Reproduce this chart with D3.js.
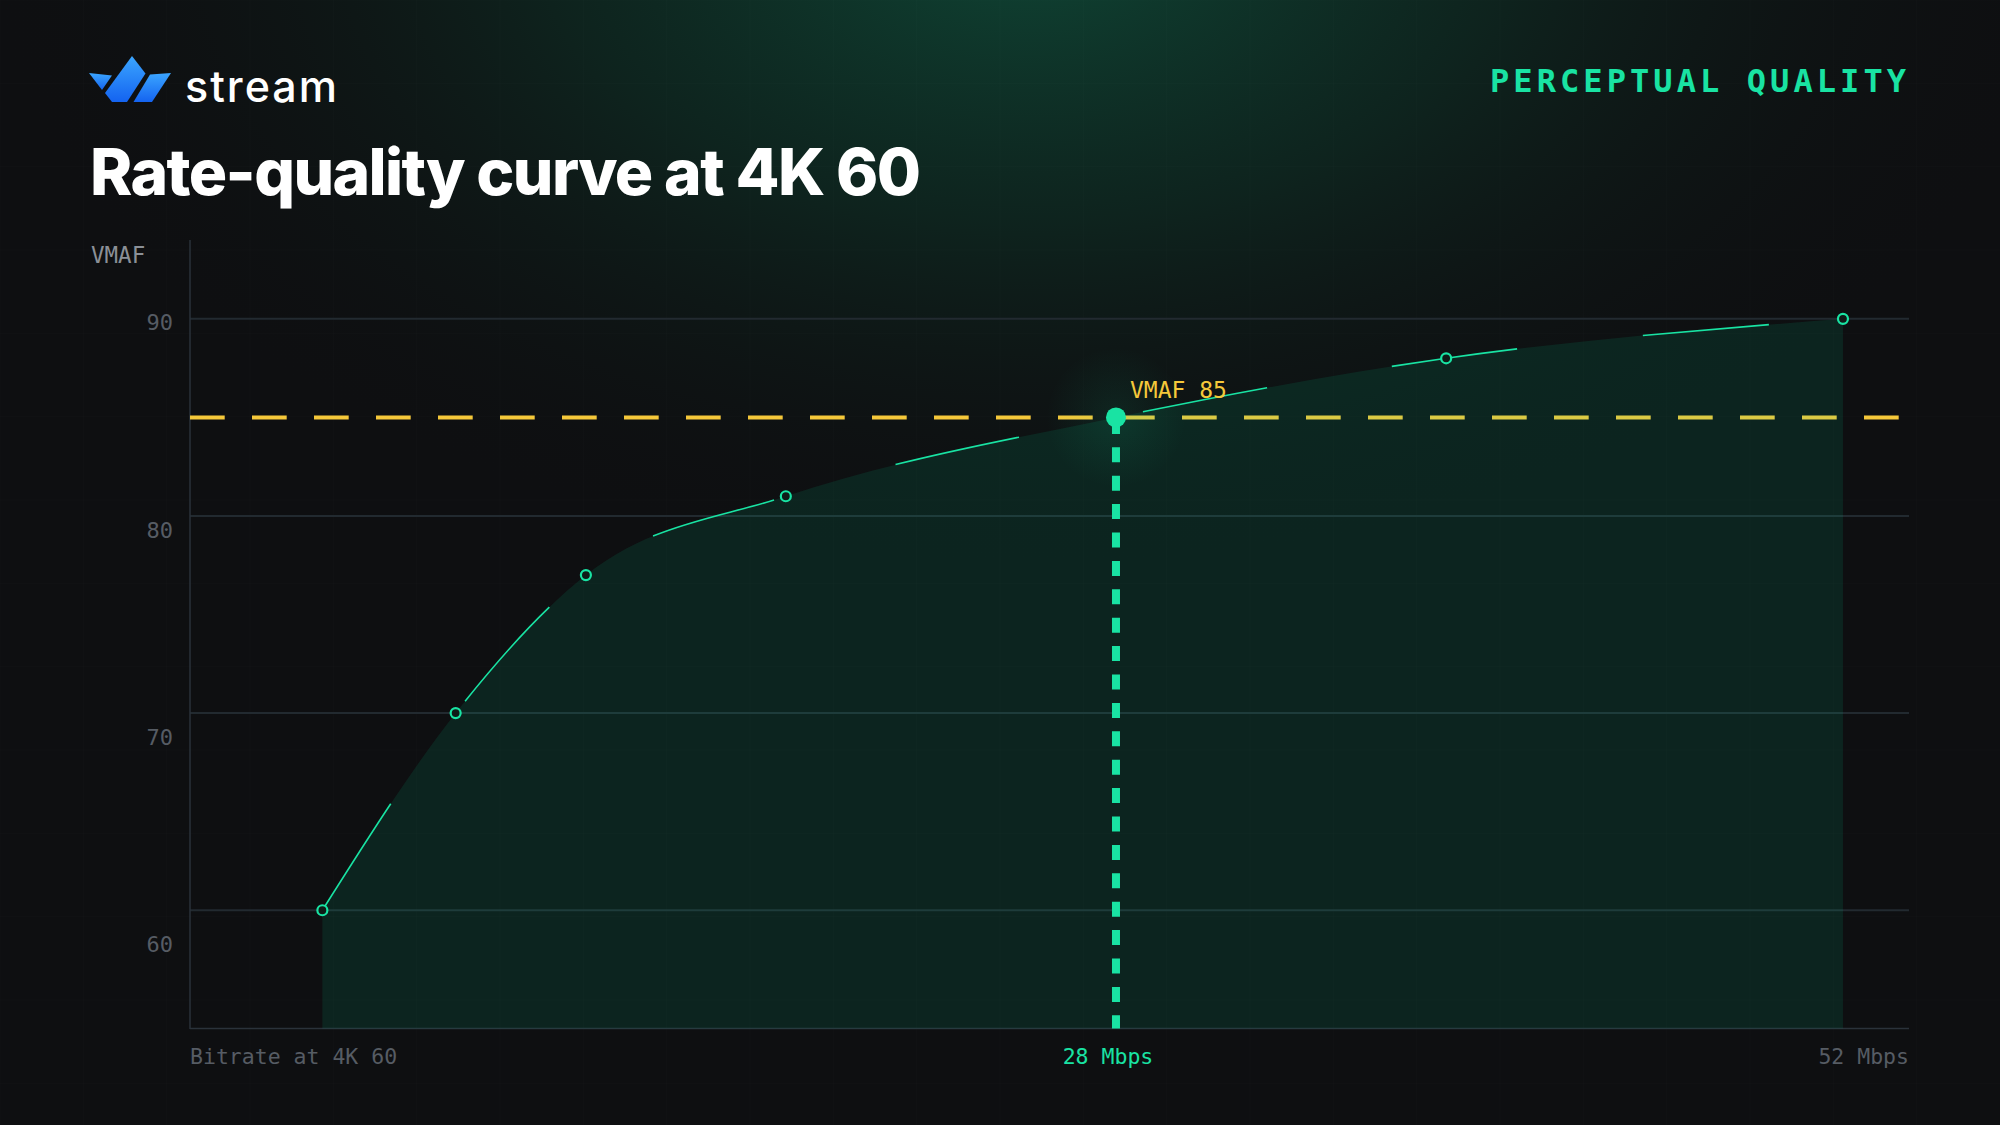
<!DOCTYPE html>
<html>
<head>
<meta charset="utf-8">
<script src="https://cdn.jsdelivr.net/npm/d3@7/dist/d3.min.js"></script>
<style>
  html, body { margin: 0; padding: 0; background: #0e0f11; }
  svg { display: block; }
</style>
</head>
<body>
<svg id="chart" width="2000" height="1125"></svg>
<script>
// ---------- data ----------
const bitrateMbps = [1.8, 6.2, 10.5, 17.1, 28, 38.9, 52];
const vmafScores  = [60, 70, 77, 81, 85, 88, 90];
const yTickValues = [60, 70, 80, 90];
const targetVmaf = 85;
const targetBitrate = 28;
const xDomain = [-2.57, 54.18];
const yDomain = [54, 94];
const titleText = "Rate-quality curve at 4K 60";
const brandText = "stream";
const kickerText = "PERCEPTUAL QUALITY";
const yAxisTitle = "VMAF";
const xStartLabel = "Bitrate at 4K 60";
const xTargetLabel = "28 Mbps";
const xEndLabel = "52 Mbps";
const targetLabel = "VMAF 85";

// ---------- layout ----------
const W = 2000, H = 1125;
const plot = { left: 190, right: 1909, top: 240, bottom: 1028.5 };
const MONO = "'DejaVu Sans Mono', 'Liberation Mono', monospace";
const SANS = "Inter, 'Noto Sans', sans-serif";
const GREEN = "#19e3a3";
const YELLOW = "#f5c83a";

const svg = d3.select("#chart");
const defs = svg.append("defs");

// background
const bgGlow = defs.append("radialGradient").attr("id", "bgGlow")
  .attr("gradientUnits", "userSpaceOnUse")
  .attr("cx", 1030).attr("cy", -60).attr("r", 1050)
  .attr("gradientTransform", "translate(1030,-60) scale(1,0.6) translate(-1030,60)");
bgGlow.append("stop").attr("offset", 0).attr("stop-color", "#0f4434").attr("stop-opacity", 1);
bgGlow.append("stop").attr("offset", 0.45).attr("stop-color", "#0e2a22").attr("stop-opacity", 0.75);
bgGlow.append("stop").attr("offset", 1).attr("stop-color", "#0e0f11").attr("stop-opacity", 0);

const dotGlow = defs.append("radialGradient").attr("id", "dotGlow");
dotGlow.append("stop").attr("offset", 0).attr("stop-color", GREEN).attr("stop-opacity", 0.09);
dotGlow.append("stop").attr("offset", 1).attr("stop-color", GREEN).attr("stop-opacity", 0);

const logoGrad = defs.append("linearGradient").attr("id", "logoGrad")
  .attr("x1", 0).attr("y1", 0).attr("x2", 0).attr("y2", 1);
logoGrad.append("stop").attr("offset", 0).attr("stop-color", "#3ba6ff");
logoGrad.append("stop").attr("offset", 1).attr("stop-color", "#1463f0");

svg.append("rect").attr("width", W).attr("height", H).attr("fill", "#0e0f11");
svg.append("rect").attr("width", W).attr("height", H).attr("fill", "url(#bgGlow)");

// faint background grid
const bgGrid = svg.append("g").attr("stroke", "#ffffff").attr("stroke-opacity", 0.015).attr("stroke-width", 1);
d3.range(0, W, 2000 / 24).forEach(v => bgGrid.append("line").attr("x1", v).attr("x2", v).attr("y1", 0).attr("y2", H));
d3.range(0, H, 2000 / 24).forEach(v => bgGrid.append("line").attr("y1", v).attr("y2", v).attr("x1", 0).attr("x2", W));

// ---------- scales ----------
const x = d3.scaleLinear().domain(xDomain).range([plot.left, plot.right]);
const y = d3.scaleLinear().domain(yDomain).range([plot.bottom, plot.top]);
const yLabel = d3.scaleLinear().domain(yDomain).range([1069.3, plot.top]);

const pts = bitrateMbps.map((b, i) => ({ b, v: vmafScores[i] }));

// gridlines
svg.append("g").selectAll("line").data(yTickValues).join("line")
  .attr("x1", plot.left).attr("x2", plot.right)
  .attr("y1", d => y(d)).attr("y2", d => y(d))
  .attr("stroke", "#222a30").attr("stroke-width", 2);

// axes lines
svg.append("line").attr("x1", plot.left).attr("x2", plot.left)
  .attr("y1", plot.top).attr("y2", plot.bottom + 0.5)
  .attr("stroke", "#2a323a").attr("stroke-width", 1.5);
svg.append("line").attr("x1", plot.left).attr("x2", plot.right)
  .attr("y1", plot.bottom).attr("y2", plot.bottom)
  .attr("stroke", "#2a323a").attr("stroke-width", 1.5);

// target threshold line (yellow)
svg.append("line")
  .attr("x1", plot.left).attr("x2", plot.right)
  .attr("y1", y(targetVmaf)).attr("y2", y(targetVmaf))
  .attr("stroke", YELLOW).attr("stroke-width", 4)
  .attr("stroke-dasharray", "34.7 27.3");

// area
const area = d3.area().x(d => x(d.b)).y0(plot.bottom).y1(d => y(d.v)).curve(d3.curveMonotoneX);
svg.append("path").datum(pts).attr("d", area)
  .attr("fill", "rgb(0,224,160)").attr("fill-opacity", 0.1);

// glow at target
svg.append("circle").attr("cx", x(targetBitrate)).attr("cy", y(targetVmaf)).attr("r", 70)
  .attr("fill", "url(#dotGlow)");

// curve
const line = d3.line().x(d => x(d.b)).y(d => y(d.v)).curve(d3.curveMonotoneX);
svg.append("path").datum(pts).attr("d", line)
  .attr("fill", "none").attr("stroke", GREEN).attr("stroke-width", 1.6)
  .attr("stroke-dasharray", "126.5 126.5");

// markers
svg.append("g").selectAll("circle").data(pts.filter(d => d.v !== targetVmaf)).join("circle")
  .attr("cx", d => x(d.b)).attr("cy", d => y(d.v)).attr("r", 5)
  .attr("fill", "#0f1a17").attr("stroke", GREEN).attr("stroke-width", 2.2);

// vertical target drop
svg.append("line")
  .attr("x1", x(targetBitrate)).attr("x2", x(targetBitrate))
  .attr("y1", y(targetVmaf) + 1.5).attr("y2", plot.bottom)
  .attr("stroke", GREEN).attr("stroke-width", 8)
  .attr("stroke-dasharray", "15 13.4");

svg.append("circle").attr("cx", x(targetBitrate)).attr("cy", y(targetVmaf)).attr("r", 10)
  .attr("fill", GREEN);

// target label
svg.append("text").attr("x", x(targetBitrate) + 14).attr("y", y(targetVmaf) - 19)
  .attr("font-family", MONO).attr("font-size", 23).attr("fill", YELLOW)
  .text(targetLabel);

// y tick labels
svg.append("g").selectAll("text").data(yTickValues).join("text")
  .attr("x", 173).attr("y", d => yLabel(d))
  .attr("text-anchor", "end").attr("dominant-baseline", "central")
  .attr("font-family", MONO).attr("font-size", 22).attr("fill", "#565c64")
  .text(d => d);

// y axis title
svg.append("text").attr("x", 91).attr("y", 255)
  .attr("dominant-baseline", "central")
  .attr("font-family", MONO).attr("font-size", 22.5).attr("fill", "#8b9097")
  .text(yAxisTitle);

// x labels
const xl = svg.append("g").attr("font-family", MONO).attr("font-size", 21.5);
xl.append("text").attr("x", plot.left).attr("y", 1056).attr("dominant-baseline", "central")
  .attr("fill", "#565c64").text(xStartLabel);
xl.append("text").attr("x", x(targetBitrate) - 8).attr("y", 1056).attr("dominant-baseline", "central")
  .attr("text-anchor", "middle").attr("fill", GREEN).text(xTargetLabel);
xl.append("text").attr("x", plot.right).attr("y", 1056).attr("dominant-baseline", "central")
  .attr("text-anchor", "end").attr("fill", "#565c64").text(xEndLabel);

// helper to fit text width via letter-spacing
function fitWidth(sel, target) {
  const n = sel.text().length;
  const w = sel.node().getComputedTextLength();
  const ls = (target - w) / Math.max(1, n - 1);
  sel.attr("letter-spacing", ls);
}

// title
const title = svg.append("text").attr("x", 90).attr("y", 195)
  .attr("font-family", SANS).attr("font-weight", 800).attr("font-size", 64)
  .attr("fill", "#ffffff").text(titleText);
fitWidth(title, 831);

// kicker
const kicker = svg.append("text").attr("x", 1490).attr("y", 92)
  .attr("font-family", MONO).attr("font-weight", 700).attr("font-size", 32)
  .attr("fill", GREEN).text(kickerText);
fitWidth(kicker, 416);

// logo
const logo = svg.append("g").attr("fill", "url(#logoGrad)");
logo.append("path").attr("d", "M89,73 L112,75.5 L102,90 Z");
logo.append("path").attr("d", "M132,56 L145.5,73.5 L127,102 L112,102 L105,93 Z");
logo.append("path").attr("d", "M150,74.5 L171,73 L152,102 L133.5,102 Z");

const brand = svg.append("text").attr("x", 185).attr("y", 102)
  .attr("font-family", SANS).attr("font-weight", 500).attr("font-size", 43)
  .attr("fill", "#ffffff").text(brandText);
fitWidth(brand, 152);
</script>
</body>
</html>
